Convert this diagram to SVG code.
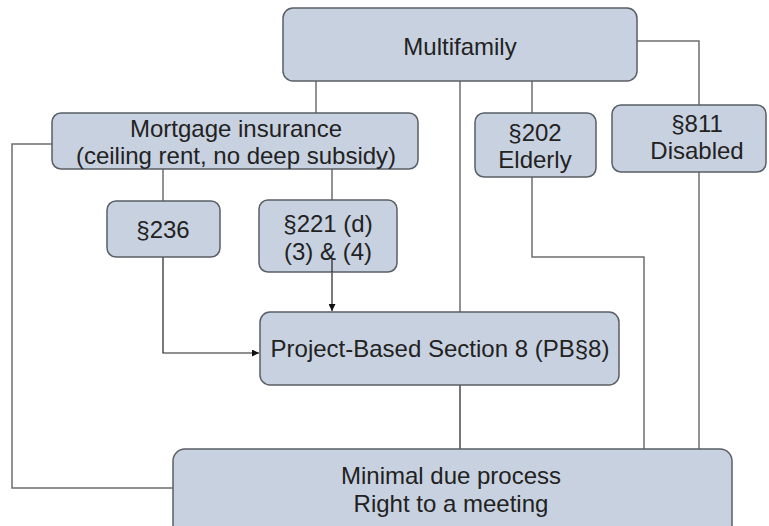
<svg xmlns="http://www.w3.org/2000/svg" width="769" height="526" viewBox="0 0 769 526">
<style>
.box{fill:#c8d1e0;stroke:#5a5f66;stroke-width:1.5}
.t{font-family:"Liberation Sans",Arial,sans-serif;font-size:24px;fill:#222;text-anchor:middle}
.c{fill:none;stroke:#6e6e6e;stroke-width:1.5}
.a{fill:none;stroke:#222;stroke-width:1.2}
</style>
<defs>
<marker id="arr" viewBox="0 0 10 10" refX="10" refY="5" markerWidth="7" markerHeight="7" markerUnits="userSpaceOnUse" orient="auto">
<path d="M0,0 L10,5 L0,10 z" fill="#111"/>
</marker>
</defs>
<rect width="769" height="526" fill="#fff"/>
<g id="connectors">
<path class="c" d="M316,81 V113"/>
<path class="c" d="M460,81 V449"/>
<path class="c" d="M532,81 V113"/>
<path class="c" d="M637,41 H699 V105"/>
<path class="c" d="M699,172 V449"/>
<path class="c" d="M532,177 V257 H644 V449"/>
<path class="c" d="M52,144 H12 V488 H173"/>
<path class="c" d="M163,169 V201"/>
<path class="c" d="M332,169 V200"/>
<path class="c" d="M460,385 V449"/>
<path class="a" d="M163,257 V353 H259" marker-end="url(#arr)"/>
<path class="a" d="M332,258 V311" marker-end="url(#arr)"/>
</g>
<g id="multifamily">
<rect class="box" x="283" y="8" width="354" height="73" rx="10"/>
<text class="t" x="460" y="55">Multifamily</text>
</g>
<g id="mortgage">
<rect class="box" x="52" y="113" width="366" height="56" rx="9"/>
<text class="t" x="236" y="137">Mortgage insurance</text>
<text class="t" x="236" y="164">(ceiling rent, no deep subsidy)</text>
</g>
<g id="s236">
<rect class="box" x="107" y="201" width="113" height="56" rx="9"/>
<text class="t" x="163" y="238">§236</text>
</g>
<g id="s221">
<rect class="box" x="259" y="200" width="138" height="72" rx="9"/>
<text class="t" x="328" y="232">§221 (d)</text>
<text class="t" x="328" y="260">(3) &amp; (4)</text>
</g>
<path class="a" d="M332,258 V272"/>
<g id="s202">
<rect class="box" x="475" y="113" width="121" height="64" rx="9"/>
<text class="t" x="535" y="141">§202</text>
<text class="t" x="535" y="168">Elderly</text>
</g>
<g id="s811">
<rect class="box" x="612" y="105" width="154" height="67" rx="9"/>
<text class="t" x="697" y="132">§811</text>
<text class="t" x="697" y="159">Disabled</text>
</g>
<g id="pbs8">
<rect class="box" x="260" y="312" width="359" height="73" rx="10"/>
<text class="t" x="440" y="357">Project-Based Section 8 (PB§8)</text>
</g>
<g id="minimal">
<rect class="box" x="173" y="449" width="559" height="90" rx="12"/>
<text class="t" x="451" y="484">Minimal due process</text>
<text class="t" x="451" y="512">Right to a meeting</text>
</g>
</svg>
